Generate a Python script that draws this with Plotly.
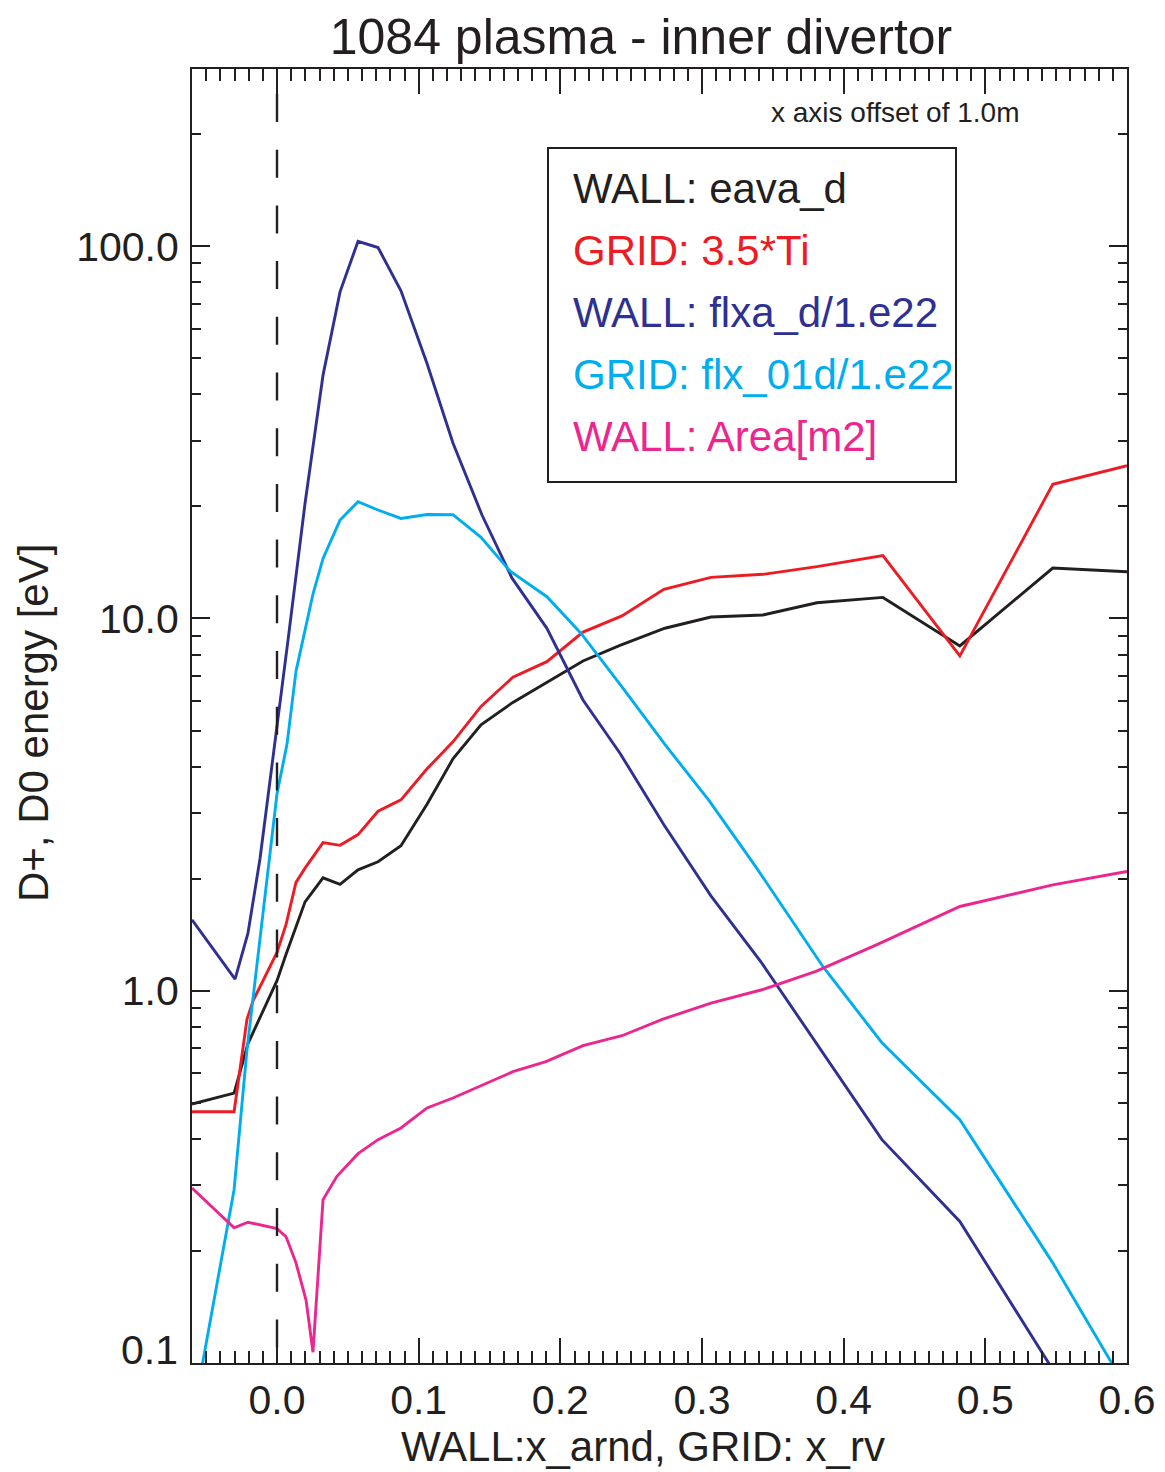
import plotly.graph_objects as go

# ---------------- data ----------------
x_eava = [-0.060, -0.0303, -0.0205, 0.0, 0.0064, 0.0198, 0.0325, 0.0445, 0.0572, 0.0713,
          0.0875, 0.1059, 0.1242, 0.1440, 0.1665, 0.1898, 0.2160, 0.2421, 0.2738, 0.3063,
          0.3430, 0.3811, 0.4277, 0.4820, 0.5476, 0.6000]
eava_d = [0.496, 0.531, 0.721, 1.064, 1.253, 1.733, 2.011, 1.931, 2.113, 2.220,
          2.451, 3.168, 4.196, 5.178, 5.951, 6.711, 7.689, 8.463, 9.413, 10.09,
          10.22, 11.02, 11.39, 8.437, 13.66, 13.35]

x_ti = [-0.060, -0.0303, -0.0212, -0.0169, 0.0, 0.0064, 0.0134, 0.0198, 0.0325, 0.0445,
        0.0572, 0.0713, 0.0875, 0.1059, 0.1242, 0.1440, 0.1665, 0.1905, 0.2160, 0.2435,
        0.2731, 0.3063, 0.3430, 0.3811, 0.4277, 0.4820, 0.5476, 0.6000]
ti_35 = [0.473, 0.473, 0.838, 0.940, 1.268, 1.507, 1.954, 2.134, 2.499, 2.458,
         2.627, 3.034, 3.257, 3.945, 4.662, 5.806, 6.953, 7.656, 9.19, 10.16,
         11.98, 12.89, 13.14, 13.78, 14.76, 7.93, 22.93, 25.72]

x_flxa = [-0.060, -0.0296, -0.0205, -0.0120, 0.0078, 0.0198, 0.0325, 0.0445, 0.0572, 0.0713,
          0.0875, 0.1059, 0.1242, 0.1447, 0.1658, 0.1905, 0.2160, 0.2421, 0.2731, 0.3063,
          0.3416, 0.4270, 0.4820, 0.5476]
flxa_d = [1.551, 1.074, 1.427, 2.262, 8.757, 20.39, 45.05, 75.4, 103.1, 99.2,
          75.9, 48.4, 29.6, 18.96, 12.85, 9.41, 6.04, 4.346, 2.791, 1.799,
          1.196, 0.398, 0.240, 0.096]

x_flx01 = [-0.060, -0.0303, -0.0212, 0.0, 0.0071, 0.0134, 0.0254, 0.0325, 0.0445, 0.0572,
           0.0713, 0.0875, 0.1059, 0.1242, 0.1440, 0.1644, 0.1905, 0.2145, 0.2435, 0.2738,
           0.3049, 0.3380, 0.3853, 0.4270, 0.4820, 0.5476, 0.6000]
flx_01d = [0.0697, 0.292, 0.694, 3.38, 4.604, 7.21, 11.63, 14.5, 18.38, 20.59,
           19.56, 18.56, 19.02, 19.0, 16.52, 13.41, 11.44, 9.13, 6.55, 4.588,
           3.246, 2.152, 1.162, 0.725, 0.4505, 0.1858, 0.0851]

x_area = [-0.060, -0.0303, -0.0205, 0.0, 0.0064, 0.0134, 0.0205, 0.0254, 0.0325, 0.0423,
          0.0572, 0.0713, 0.0875, 0.1059, 0.1242, 0.1433, 0.1665, 0.1898, 0.2160, 0.2435,
          0.2724, 0.3063, 0.3423, 0.3804, 0.4255, 0.4820, 0.5476, 0.6000]
area_m2 = [0.2953, 0.2306, 0.2388, 0.2296, 0.2183, 0.1858, 0.1475, 0.1069, 0.2747, 0.3173,
           0.3650, 0.398, 0.428, 0.4844, 0.515, 0.5535, 0.606, 0.6447, 0.7118, 0.757,
           0.8386, 0.9268, 1.006, 1.127, 1.34, 1.684, 1.925, 2.091]

series_names = ["WALL: eava_d", "GRID: 3.5*Ti", "WALL: flxa_d/1.e22",
                "GRID: flx_01d/1.e22", "WALL: Area[m2]"]
series_colors = ["#231F20", "#ED1C24", "#2E3192", "#00AEEF", "#EC268F"]

x_tickvals = [0.0, 0.1, 0.2, 0.3, 0.4, 0.5, 0.6]
y_tickvals = [0.1, 1, 10, 100]
y_ticktext = ["", "1.0", "10.0", "100.0"]   # bottom label drawn separately, raised
y_bottom_label = "0.1"
y_minorvals = [m * d for d in (0.1, 1, 10, 100) for m in range(2, 10)]

title_text = "1084 plasma - inner divertor"
x_title = "WALL:x_arnd, GRID: x_rv"
y_title = "D+, D0 energy [eV]"
note_text = "x axis offset of 1.0m"

# ---------------- layout geometry ----------------
W, H = 1165, 1472
OFF = 8                                   # page body margin
L, R, T, B = 192, 1127, 69, 1363          # plot-area edges in screen px
FONT = "Liberation Sans, Arial, Helvetica, sans-serif"
INK = "#231F20"


def px_x(px):
    return (px - L) / (R - L)


def px_y(py):
    return (B - py) / (B - T)


fig = go.Figure()
xs_list = [x_eava, x_ti, x_flxa, x_flx01, x_area]
ys_list = [eava_d, ti_35, flxa_d, flx_01d, area_m2]
for xs, ys, name, col in zip(xs_list, ys_list, series_names, series_colors):
    fig.add_trace(go.Scatter(x=xs, y=ys, mode="lines", name=name,
                             line=dict(color=col, width=2.9), showlegend=False))

# dashed vertical line at x = 0
fig.add_shape(type="line", xref="x", yref="paper", x0=0, x1=0,
              y0=px_y(94), y1=0, line=dict(color=INK, width=2.4, dash="28px,27.7px"))

# legend box
fig.add_shape(type="rect", xref="paper", yref="paper",
              x0=px_x(548), x1=px_x(956), y0=px_y(482), y1=px_y(148),
              line=dict(color=INK, width=2), fillcolor="rgba(0,0,0,0)")
for i, (name, col) in enumerate(zip(series_names, series_colors)):
    fig.add_annotation(text=name, xref="paper", yref="paper",
                       x=px_x(571), y=px_y(188 + i * 62.2), xanchor="left", yanchor="middle",
                       showarrow=False, font=dict(family=FONT, size=42, color=col))

fig.add_annotation(text=note_text, xref="paper", yref="paper",
                   x=px_x(895), y=px_y(113), xanchor="center", yanchor="middle",
                   showarrow=False, font=dict(family=FONT, size=28, color=INK))

# bottom y tick label (raised above the axis corner as in the reference)
fig.add_annotation(text=y_bottom_label, xref="paper", yref="paper",
                   x=px_x(180), y=px_y(1350), xanchor="right", yanchor="middle",
                   showarrow=False, font=dict(family=FONT, size=41, color=INK))

# axis titles
fig.add_annotation(text=x_title, xref="paper", yref="paper",
                   x=px_x(643), y=px_y(1446), xanchor="center", yanchor="middle",
                   showarrow=False, font=dict(family=FONT, size=42, color=INK))
fig.add_annotation(text=y_title, xref="paper", yref="paper", textangle=-90,
                   x=px_x(33), y=px_y(723), xanchor="center", yanchor="middle",
                   showarrow=False, font=dict(family=FONT, size=42, color=INK))

fig.update_layout(
    width=W, height=H, autosize=False,
    margin=dict(l=L - OFF, r=W - (R - OFF), t=T - OFF, b=H - (B - OFF), pad=0),
    paper_bgcolor="white", plot_bgcolor="white",
    font=dict(family=FONT, color=INK),
    title=dict(text=title_text, xref="paper", yref="container",
               x=px_x(641), y=1 - (36 - OFF) / H, xanchor="center", yanchor="middle",
               font=dict(family=FONT, size=50, color=INK)),
    showlegend=False,
)

fig.update_xaxes(
    range=[-0.06, 0.6], showgrid=False, zeroline=False,
    showline=True, linecolor=INK, linewidth=2, mirror="allticks",
    tickmode="array", tickvals=x_tickvals, tickformat=".1f",
    ticks="inside", ticklen=25, tickwidth=2, tickcolor=INK,
    tickfont=dict(family=FONT, size=41, color=INK), ticklabelstandoff=0,
    minor=dict(ticks="inside", ticklen=12, tickwidth=1.5, tickcolor=INK,
               dtick=0.01, tick0=0, showgrid=False),
)
fig.update_yaxes(
    type="log", range=[-1.0, 2.476], showgrid=False, zeroline=False,
    showline=True, linecolor=INK, linewidth=2, mirror="allticks",
    tickmode="array", tickvals=y_tickvals, ticktext=y_ticktext,
    ticks="inside", ticklen=18, tickwidth=2, tickcolor=INK,
    tickfont=dict(family=FONT, size=41, color=INK), ticklabelstandoff=3,
    minor=dict(ticks="inside", ticklen=9, tickwidth=1.5, tickcolor=INK,
               tickmode="array", tickvals=y_minorvals, showgrid=False),
)

fig.write_html("out.html")
